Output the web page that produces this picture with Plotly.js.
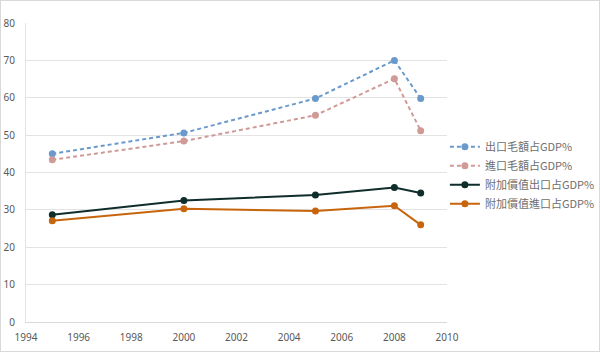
<!DOCTYPE html>
<html><head><meta charset="utf-8">
<script src="https://cdn.plot.ly/plotly-3.0.1.min.js"></script>
<style>
html,body{margin:0;padding:0;background:#fff;}
#wrap{width:600px;height:352px;box-sizing:border-box;border:1px solid #D9D9D9;position:relative;overflow:hidden;}
#chart{position:absolute;left:-1px;top:-1px;width:600px;height:352px;}
</style></head>
<body><div id="wrap"><div id="chart"></div></div>
<script>
const years = [1995, 2000, 2005, 2008, 2009];
const grossExport = [45.0, 50.6, 59.8, 70.0, 59.8];
const grossImport = [43.4, 48.4, 55.3, 65.1, 51.2];
const vaExport = [28.7, 32.5, 34.0, 36.0, 34.5];
const vaImport = [27.1, 30.3, 29.7, 31.1, 26.0];
const names = ['出口毛額占GDP%', '進口毛額占GDP%', '附加價值出口占GDP%', '附加價值進口占GDP%'];
const colors = ['#6A99CB', '#D09A97', '#0F2E2B', '#C8650C'];
const dashes = ['4px,3px', '4px,3px', 'solid', 'solid'];
const series = [grossExport, grossImport, vaExport, vaImport];

const traces = series.map((s, i) => ({
  x: years, y: s, name: names[i], type: 'scatter', mode: 'lines+markers',
  legendgroup: 'g' + i,
  line: {color: colors[i], width: 2, dash: dashes[i]},
  marker: {color: colors[i], size: 7}
}));

const layout = {
  width: 600, height: 352,
  margin: {l: 26, r: 153, t: 23, b: 30, autoexpand: false},
  paper_bgcolor: '#fff', plot_bgcolor: '#fff',
  font: {family: '"Noto Sans CJK TC", "Noto Sans", sans-serif', size: 10, color: '#595959'},
  xaxis: {range: [1994, 2010], dtick: 2, tick0: 1994, showgrid: false, zeroline: false,
    showline: true, linecolor: '#D9D9D9', linewidth: 1, ticks: '', ticklen: 0,
    ticklabelstandoff: 6, automargin: false,
    tickfont: {family: '"Noto Sans", sans-serif', size: 10, color: '#595959'}},
  yaxis: {range: [0, 80], dtick: 10, showgrid: true, gridcolor: '#E3E3E3', gridwidth: 1,
    zeroline: false, showline: true, linecolor: '#E3E3E3', ticks: '',
    ticklabelstandoff: 8, automargin: false,
    tickfont: {family: '"Noto Sans", sans-serif', size: 10, color: '#595959'}},
  legend: {x: 0.995, y: 0.635, xanchor: 'left', yanchor: 'top', bgcolor: 'rgba(0,0,0,0)',
    font: {family: '"Noto Sans CJK TC", sans-serif', size: 11, color: '#6E6E6E'},
    tracegroupgap: 1, itemwidth: 30, traceorder: 'normal'},
  showlegend: true
};
Plotly.newPlot('chart', traces, layout, {displayModeBar: false, staticPlot: true});
</script></body></html>
